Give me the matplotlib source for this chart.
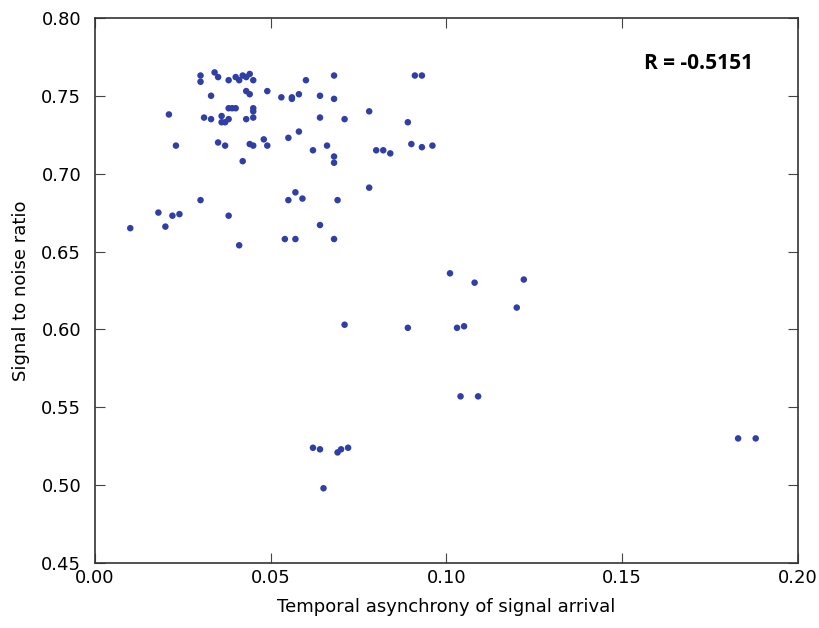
import matplotlib
matplotlib.use("Agg")
import matplotlib.pyplot as plt
from matplotlib.ticker import FormatStrFormatter

# temporal asynchrony (x) vs signal to noise ratio (y)
asynchrony = [0.010, 0.018, 0.020, 0.022, 0.024, 0.021, 0.023, 0.030, 0.030, 0.030,
              0.031, 0.033, 0.033, 0.034, 0.035, 0.035, 0.036, 0.036, 0.037, 0.037,
              0.038, 0.038, 0.038, 0.039, 0.038, 0.040, 0.040, 0.041, 0.041, 0.042,
              0.042, 0.043, 0.043, 0.043, 0.044, 0.044, 0.044, 0.045, 0.045, 0.045,
              0.045, 0.045, 0.048, 0.049, 0.049, 0.053, 0.054, 0.055, 0.055, 0.056,
              0.056, 0.057, 0.057, 0.058, 0.058, 0.059, 0.060, 0.062, 0.064, 0.064,
              0.064, 0.066, 0.068, 0.068, 0.068, 0.068, 0.068, 0.069, 0.071, 0.071,
              0.078, 0.078, 0.080, 0.082, 0.084, 0.089, 0.090, 0.091, 0.093, 0.093,
              0.096, 0.089, 0.101, 0.103, 0.105, 0.104, 0.108, 0.109, 0.120, 0.122,
              0.062, 0.064, 0.065, 0.069, 0.070, 0.072, 0.183, 0.188]
snr = [0.665, 0.675, 0.666, 0.673, 0.674, 0.738, 0.718, 0.763, 0.759, 0.683,
       0.736, 0.750, 0.735, 0.765, 0.762, 0.720, 0.733, 0.737, 0.718, 0.733,
       0.735, 0.760, 0.742, 0.742, 0.673, 0.762, 0.742, 0.654, 0.760, 0.763,
       0.708, 0.762, 0.735, 0.753, 0.764, 0.719, 0.751, 0.760, 0.742, 0.740,
       0.736, 0.718, 0.722, 0.753, 0.718, 0.749, 0.658, 0.683, 0.723, 0.749,
       0.748, 0.658, 0.688, 0.751, 0.727, 0.684, 0.760, 0.715, 0.750, 0.736,
       0.667, 0.718, 0.763, 0.748, 0.711, 0.707, 0.658, 0.683, 0.735, 0.603,
       0.740, 0.691, 0.715, 0.715, 0.713, 0.733, 0.719, 0.763, 0.763, 0.717,
       0.718, 0.601, 0.636, 0.601, 0.602, 0.557, 0.630, 0.557, 0.614, 0.632,
       0.524, 0.523, 0.498, 0.521, 0.523, 0.524, 0.530, 0.530]
r_value = -0.5151

fig = plt.figure(figsize=(8.2, 6.28), dpi=100)
ax = fig.add_axes([0.116, 0.1035, 0.857, 0.868])

ax.scatter(asynchrony, snr, s=22, color="#2f3fa6", edgecolors="none")

ax.set_xlim(0.0, 0.20)
ax.set_ylim(0.45, 0.80)
ax.set_xticks([0.00, 0.05, 0.10, 0.15, 0.20])
ax.set_yticks([0.45, 0.50, 0.55, 0.60, 0.65, 0.70, 0.75, 0.80])
ax.xaxis.set_major_formatter(FormatStrFormatter("%.2f"))
ax.yaxis.set_major_formatter(FormatStrFormatter("%.2f"))
ax.tick_params(direction="in", top=True, right=True, length=7, labelsize=13,
               color="#444444")
ax.tick_params(axis="x", pad=4)
ax.tick_params(axis="y", pad=10)
for sp in ax.spines.values():
    sp.set_linewidth(1.2)
    sp.set_color("#333333")

ax.set_xlabel("Temporal asynchrony of signal arrival", fontsize=13, labelpad=8)
ax.set_ylabel("Signal to noise ratio", fontsize=13, labelpad=8)

ax.text(0.858, 0.916, "R = %.4f" % r_value, transform=ax.transAxes, ha="center",
        va="center", fontsize=15, fontweight="bold", family=["Open Sans", "DejaVu Sans"])

fig.savefig("out.png", dpi=100)
